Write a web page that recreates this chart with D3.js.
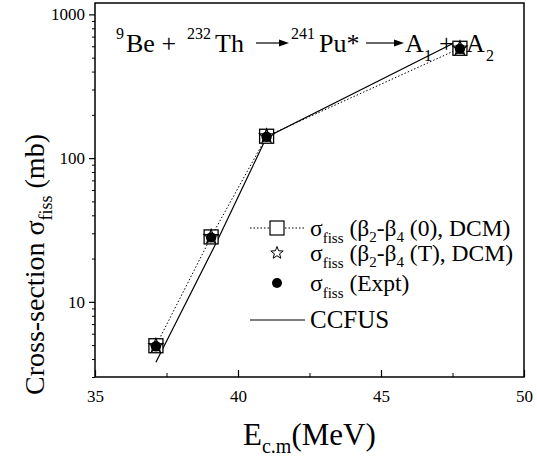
<!DOCTYPE html>
<html>
<head>
<meta charset="utf-8">
<script src="https://cdnjs.cloudflare.com/ajax/libs/d3/7.8.5/d3.min.js"></script>
<style>
  body { margin: 0; background: #fff; }
</style>
</head>
<body>
<div id="output"></div>
<script>
    var width = 537, height = 457;
    var font = "'Liberation Serif', 'Times New Roman', 'Liberation Sans', Arial, sans-serif";

    // data
    var ecm = [37.13, 39.06, 41.0, 47.76];
    var dcm0 = [4.95, 28.3, 142, 581];
    var dcmT = [4.95, 28.3, 142, 581];
    var expt = [4.95, 28.3, 142, 581];
    var ccfusE = [37.13, 39.25, 41.0, 47.6];
    var ccfus = [3.8, 26, 140, 640];
    var xTicks = [35, 40, 45, 50];
    var yTicks = [10, 100, 1000];

    var x = d3.scaleLinear().domain([35, 50]).range([95, 524]);
    var y = d3.scaleLog().domain([3, 1200]).range([377, 3]);

    var svg = d3.select("#output").append("svg")
        .attr("width", width)
        .attr("height", height)
        .attr("font-family", font);

    // minor ticks
    var yMinor = [];
    [1, 10, 100].forEach(function(d) {
        for (var k = 2; k <= 9; k++) {
            var v = d * k;
            if (v >= 3 && v <= 1200) yMinor.push(v);
        }
    });
    var xMinor = [37.5, 42.5, 47.5];

    svg.append("g")
        .attr("transform", "translate(95,0)")
        .call(d3.axisLeft(y).tickValues(yMinor).tickSize(3).tickFormat(""))
        .call(g => g.select(".domain").remove());

    var yAxis = svg.append("g")
        .attr("transform", "translate(95,0)")
        .call(d3.axisLeft(y).tickValues(yTicks).tickSize(6).tickPadding(4).tickFormat(d3.format("d")));
    yAxis.attr("font-family", font).attr("font-size", 17);
    yAxis.select(".domain").remove();
    yAxis.selectAll("line").attr("stroke-width", 1.2);

    svg.append("g")
        .attr("transform", "translate(0,377)")
        .call(d3.axisBottom(x).tickValues(xMinor).tickSize(-4).tickFormat(""))
        .call(g => g.select(".domain").remove());

    var xAxis = svg.append("g")
        .attr("transform", "translate(0,377)")
        .call(d3.axisBottom(x).tickValues(xTicks).tickSize(-7).tickPadding(13));
    xAxis.attr("font-family", font).attr("font-size", 17);
    xAxis.select(".domain").remove();
    xAxis.selectAll("line").attr("stroke-width", 1.2);

    // frame
    svg.append("rect")
        .attr("x", 95).attr("y", 3)
        .attr("width", 524 - 95).attr("height", 377 - 3)
        .attr("fill", "none").attr("stroke", "black").attr("stroke-width", 1.5);

    // lines
    var line = d3.line().x(d => x(d[0])).y(d => y(d[1]));

    svg.append("path")
        .datum(d3.zip(ccfusE, ccfus))
        .attr("d", line)
        .attr("fill", "none").attr("stroke", "black").attr("stroke-width", 1.2);

    svg.append("path")
        .datum(d3.zip(ecm, dcm0))
        .attr("d", line)
        .attr("fill", "none").attr("stroke", "black").attr("stroke-width", 1)
        .attr("stroke-dasharray", "1.5,2");

    var starPath = function(r) {
        var pts = [];
        for (var i = 0; i < 10; i++) {
            var rr = i % 2 === 0 ? r : r * 0.42;
            var a = -Math.PI / 2 + i * Math.PI / 5;
            pts.push([rr * Math.cos(a), rr * Math.sin(a)]);
        }
        return "M" + pts.map(p => p[0].toFixed(2) + "," + p[1].toFixed(2)).join("L") + "Z";
    };

    // markers
    svg.selectAll(".sq").data(d3.zip(ecm, dcm0)).enter().append("rect")
        .attr("x", d => x(d[0]) - 7).attr("y", d => y(d[1]) - 7)
        .attr("width", 14).attr("height", 14)
        .attr("fill", "white").attr("stroke", "black").attr("stroke-width", 1.3);

    svg.selectAll(".dot").data(d3.zip(ecm, expt)).enter().append("circle")
        .attr("cx", d => x(d[0])).attr("cy", d => y(d[1]) + 0.5)
        .attr("r", 5.2).attr("fill", "black");

    svg.selectAll(".star").data(d3.zip(ecm, dcmT)).enter().append("path")
        .attr("transform", d => "translate(" + x(d[0]) + "," + y(d[1]) + ")")
        .attr("d", starPath(7.5))
        .attr("fill", "none").attr("stroke", "black").attr("stroke-width", 1.1);

    // title, pieces placed where the reference has them
    var tBase = 52, sup = 16, big = 26;
    var titleParts = [
        [116, tBase - 13, sup, "9"],
        [126, tBase, big, "Be +"],
        [187, tBase - 13, sup, "232"],
        [215, tBase, big, "Th"],
        [291, tBase - 13, sup, "241"],
        [319, tBase, big, "Pu*"],
        [405, tBase, big, "A"],
        [424, tBase + 9, sup, "1"],
        [439, tBase, big, "+"],
        [466, tBase, big, "A"],
        [486, tBase + 9, sup, "2"]
    ];
    titleParts.forEach(function(p) {
        svg.append("text").attr("x", p[0]).attr("y", p[1]).attr("font-size", p[2]).text(p[3]);
    });

    var arrows = [[256, 289], [366, 404]];
    arrows.forEach(function(a) {
        svg.append("line")
            .attr("x1", a[0]).attr("x2", a[1] - 8)
            .attr("y1", 43).attr("y2", 43)
            .attr("stroke", "black").attr("stroke-width", 1.2);
        svg.append("path")
            .attr("d", "M" + a[1] + ",43 L" + (a[1] - 10) + ",39.5 L" + (a[1] - 10) + ",46.5 Z")
            .attr("fill", "black");
    });

    // axis titles
    var xl = svg.append("text").attr("x", 243).attr("y", 445).attr("font-size", 31);
    xl.append("tspan").text("E");
    xl.append("tspan").attr("dy", 8).attr("font-size", 20).text("c.m");
    xl.append("tspan").attr("dy", -8).text("(MeV)");

    var yl = svg.append("text")
        .attr("transform", "translate(44,395) rotate(-90)")
        .attr("font-size", 28);
    yl.append("tspan").text("Cross-section σ");
    yl.append("tspan").attr("dy", 8).attr("font-size", 18).text("fiss");
    yl.append("tspan").attr("dy", -8).text(" (mb)");

    // legend
    var lx1 = 250, lx2 = 305, lmid = 277, tx = 310;
    var rows = [228, 253, 283];

    svg.append("line").attr("x1", lx1).attr("x2", lx2).attr("y1", rows[0]).attr("y2", rows[0])
        .attr("stroke", "black").attr("stroke-dasharray", "1.5,2");
    svg.append("rect").attr("x", lmid - 7).attr("y", rows[0] - 7).attr("width", 14).attr("height", 14)
        .attr("fill", "white").attr("stroke", "black").attr("stroke-width", 1.2);
    svg.append("path").attr("transform", "translate(" + lmid + "," + rows[1] + ")")
        .attr("d", starPath(6.5)).attr("fill", "none").attr("stroke", "black").attr("stroke-width", 1);
    svg.append("circle").attr("cx", lmid).attr("cy", rows[2]).attr("r", 5).attr("fill", "black");
    svg.append("line").attr("x1", lx1).attr("x2", lx2).attr("y1", 320).attr("y2", 320)
        .attr("stroke", "black").attr("stroke-width", 1.2);

    var legParts = [["(β", "2", "-β", "4", " (0), DCM)"], ["(β", "2", "-β", "4", " (T), DCM)"], ["(Expt)"]];
    rows.forEach(function(r, i) {
        var t = svg.append("text").attr("x", tx).attr("y", r + 8).attr("font-size", 23.5);
        t.append("tspan").text("σ");
        t.append("tspan").attr("dy", 7).attr("font-size", 15).text("fiss");
        t.append("tspan").attr("dy", -7).text(" ");
        legParts[i].forEach(function(p, j) {
            if (j % 2 === 1) {
                t.append("tspan").attr("dy", 6).attr("font-size", 15).text(p);
            } else {
                t.append("tspan").attr("dy", j > 0 ? -6 : 0).text(p);
            }
        });
    });
    svg.append("text").attr("x", tx).attr("y", 328).attr("font-size", 25).text("CCFUS");
</script>
</body>
</html>
